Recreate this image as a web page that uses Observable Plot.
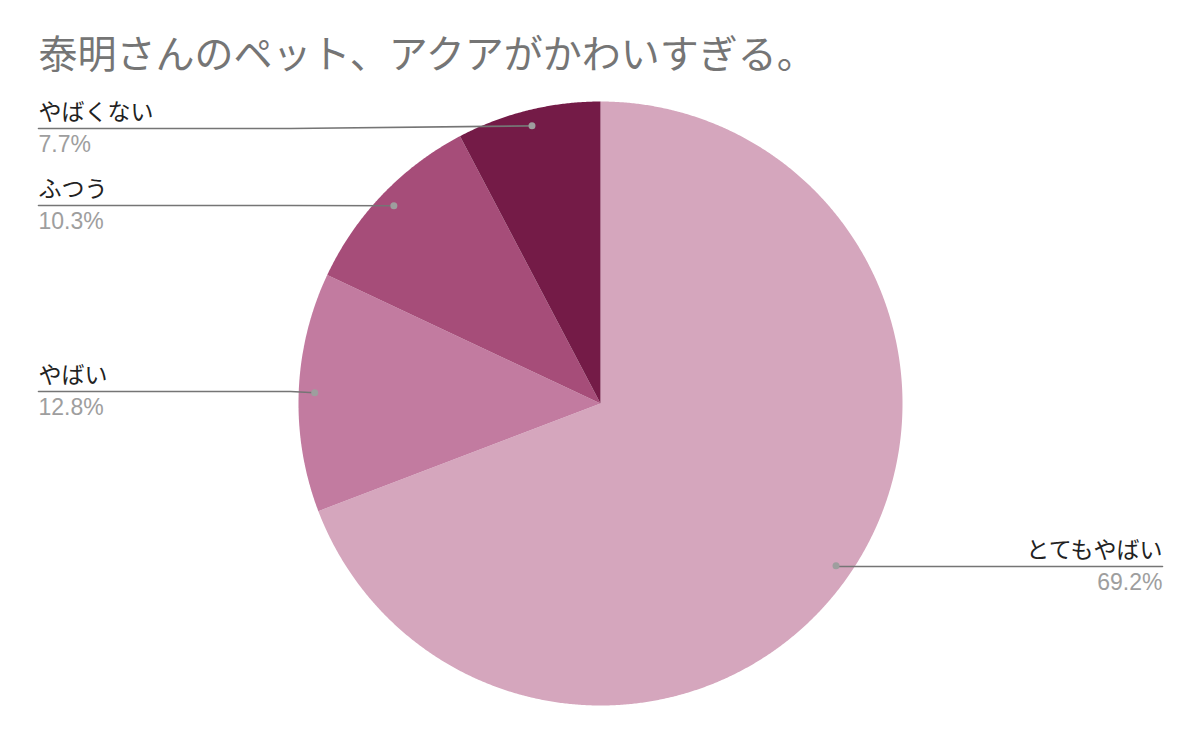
<!DOCTYPE html>
<html><head><meta charset="utf-8">
<script src="https://cdn.jsdelivr.net/npm/d3@7"></script>
<script src="https://cdn.jsdelivr.net/npm/@observablehq/plot@0.6"></script>
<style>body{margin:0;background:#fff}</style>
</head><body><div id="chart"></div>
<script>
const title = "泰明さんのペット、アクアがかわいすぎる。";
const categories = ["とてもやばい", "やばい", "ふつう", "やばくない"];
const values = [69.2, 12.8, 10.3, 7.7];
const pctLabels = ["69.2%", "12.8%", "10.3%", "7.7%"];
const colors = ["#d5a6bd", "#c27ba0", "#a64d79", "#741b47"];

// layout
const W = 1200, H = 742, cx = 600, cy = 403, R = 302;
const labelSide = ["right", "left", "left", "left"];
const labelLineY = [566, 391, 205, 128];
const leftX = 38, rightX = 1162, bendX = 290;

const rows = categories.map((c, i) => ({name: c, value: values[i], pct: pctLabels[i], color: colors[i], side: labelSide[i], ly: labelLineY[i]}));
const arcs = d3.pie().sort(null).value(d => d.value)(rows);
const pt = (a, r) => [cx + r * Math.sin(a), cy - r * Math.cos(a)];

const slicePts = [];
arcs.forEach(a => {
  const n = Math.max(2, Math.ceil((a.endAngle - a.startAngle) / 0.005));
  const push = ([x, y]) => slicePts.push({name: a.data.name, x, y});
  push([cx, cy]);
  for (let k = 0; k <= n; k++) push(pt(a.startAngle + (a.endAngle - a.startAngle) * k / n, R));
  push([cx, cy]);
});

const dots = arcs.map(a => {
  const [x, y] = pt((a.startAngle + a.endAngle) / 2, R * 0.947);
  return {...a.data, x, y};
});

const leaders = [];
dots.forEach(d => {
  const path = d.side === "left"
    ? [[leftX, d.ly], [Math.min(bendX, d.x), d.ly], [d.x, d.y]]
    : [[rightX, d.ly], [d.x, d.ly], [d.x, d.y]];
  path.forEach(([x, y]) => leaders.push({name: d.name, x, y}));
});

const labels = dots.map(d => ({...d, tx: d.side === "left" ? leftX : rightX}));
const L = labels.filter(d => d.side === "left"), Rt = labels.filter(d => d.side === "right");
const nameOpt = {x: "tx", y: d => d.ly - 9, text: "name", lineAnchor: "bottom", fontSize: 23, fill: "#222", fontFamily: "Noto Sans CJK JP"};
const pctOpt = {x: "tx", y: d => d.ly + 23, text: "pct", lineAnchor: "bottom", fontSize: 23, fill: "#9e9e9e", fontFamily: "Liberation Sans"};

const chart = Plot.plot({
  width: W, height: H,
  margin: 0,
  x: {type: "identity", axis: null},
  y: {type: "identity", axis: null},
  color: {domain: categories, range: colors},
  marks: [
    Plot.line(slicePts, {x: "x", y: "y", z: "name", fill: "name", stroke: "none", curve: "linear"}),
    Plot.line(leaders, {x: "x", y: "y", z: "name", stroke: "#757575", strokeWidth: 1.6, curve: "linear"}),
    Plot.dot(dots, {x: "x", y: "y", r: 3.5, fill: "#9e9e9e", stroke: "none"}),
    Plot.text(L, {...nameOpt, textAnchor: "start"}),
    Plot.text(Rt, {...nameOpt, textAnchor: "end"}),
    Plot.text(L, {...pctOpt, textAnchor: "start"}),
    Plot.text(Rt, {...pctOpt, textAnchor: "end"}),
    Plot.text([title], {x: () => leftX, y: () => 67, text: d => d, textAnchor: "start", lineAnchor: "bottom", fontSize: 39, fill: "#757575", fontFamily: "Noto Sans CJK JP"})
  ]
});
document.getElementById("chart").appendChild(chart);
</script>
</body></html>
